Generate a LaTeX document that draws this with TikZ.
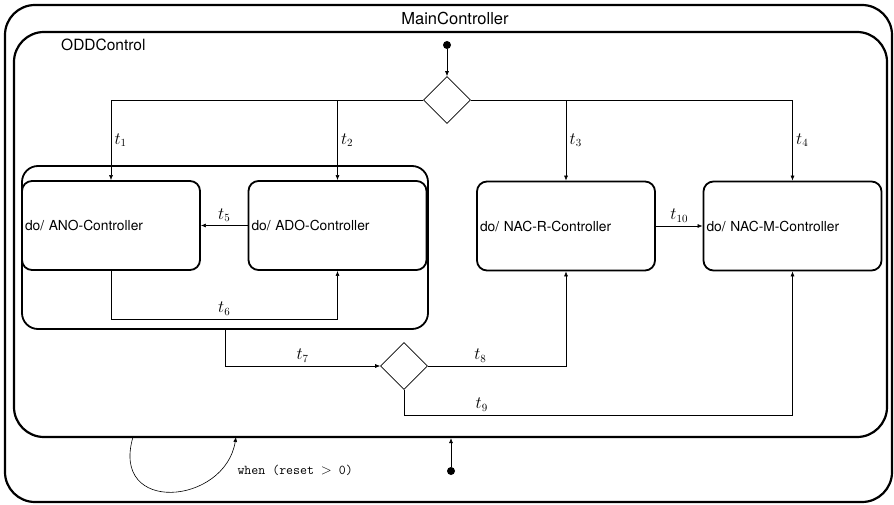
\documentclass[tikz,border=0pt]{standalone}
\usepackage{fontspec}
\setsansfont{TeX Gyre Heros}
\usetikzlibrary{positioning,calc,arrows.meta,shapes.geometric}
\tikzset{
    every node/.style={font=\fontsize{16}{18}\selectfont},
    statebox/.style={draw=black, line width=1.8pt, rounded corners=10pt, minimum height=89pt, text width=172pt, inner xsep=3pt, align=left, font=\sffamily\fontsize{13.8}{16}\selectfont},
    groupbox/.style={draw=black, line width=1.8pt, rounded corners=16pt},
    bigbox/.style={draw=black, line width=2.2pt, rounded corners=30pt},
    choice/.style={diamond, draw=black, line width=0.6pt, aspect=1, minimum width=47pt, minimum height=47pt, inner sep=0pt},
    initdot/.style={circle, fill=black, inner sep=0pt, minimum size=8pt},
    titletext/.style={font=\sffamily\fontsize{16.5}{18}\selectfont, inner sep=0pt},
    arrow/.style={-{Latex[length=5pt,width=4pt]}, line width=0.6pt},
}
\begin{document}
\begin{tikzpicture}[x=1pt, y=-1pt]
\useasboundingbox (0,0) rectangle (894,505);
% composite states
\node[bigbox, minimum width=887pt, minimum height=497pt] (main) at (448.5,253.5) {};
\node[titletext] (maintitle) at (455,18) {MainController};
\node[bigbox, minimum width=873pt, minimum height=405pt] (odd) at (450.5,234.5) {};
\node[titletext, anchor=west, font=\sffamily\fontsize{15.5}{18}\selectfont] (oddtitle) at (61,45) {ODDControl};
\node[groupbox, minimum width=406pt, minimum height=163pt] (grp) at (225,247.5) {};
% simple states
\node[statebox] (ano) at (111,225.5) {do/ ANO-Controller};
\node[statebox] (ado) at (337.5,225.5) {do/ ADO-Controller};
\node[statebox] (nacr) at (566,226) {do/ NAC-R-Controller};
\node[statebox] (nacm) at (792.5,226) {do/ NAC-M-Controller};
% pseudo states
\node[initdot] (start) at (447,45) {};
\node[choice] (dec1) at (447,100) {};
\node[choice] (dec2) at (404,366) {};
\node[initdot] (reset) at (451,471) {};
\draw[arrow] (start) -- (dec1);
\foreach \s/\t/\n in {west/ano/1, west/ado/2, east/nacr/3, east/nacm/4}{
  \draw[arrow] (dec1.\s) -| (\t.north) node[pos=0.75, right] {$t_{\n}$};
}
\draw[arrow] (ado) -- (ano) node[midway, above] {$t_5$};
\draw[arrow] (ano.south) -- ++(0,48) -| (ado.south) node[pos=0.25, above] {$t_6$};
\draw[arrow] (grp.south) |- (dec2.west) node[pos=0.75, above] {$t_7$};
\draw[arrow] (dec2.east) -| (nacr.south) node[pos=0.19, above] {$t_8$};
\draw[arrow] (dec2.south) -- ++(0,25) -| (nacm.south) node[pos=0.1, above] {$t_9$};
\draw[arrow] (nacr) -- (nacm) node[midway, above] {$t_{10}$};
% reset transition
\coordinate (loopa) at (133,437);
\coordinate (loopb) at (236,437);
\draw[arrow] (loopa) .. controls (110,515) and (225,505) .. (loopb);
\node[anchor=west, font=\ttfamily\fontsize{13.5}{15}\selectfont] (guard) at (234,470) {when (reset $>$ 0)};
\draw[arrow] (reset) -- (reset |- odd.south);
\end{tikzpicture}
\end{document}
